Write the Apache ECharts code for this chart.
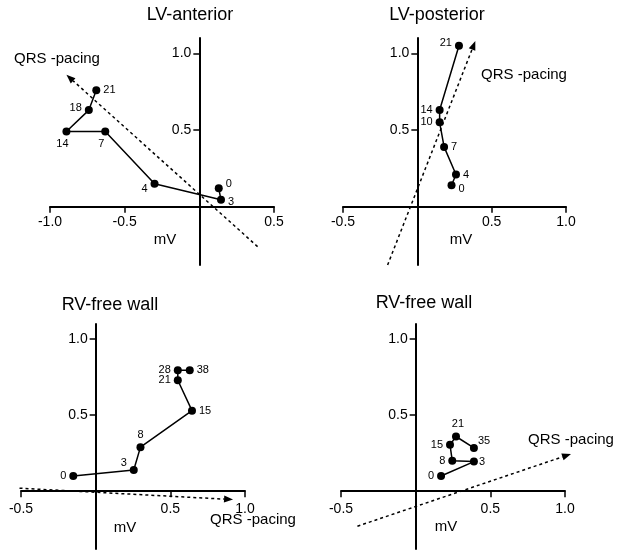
<!DOCTYPE html>
<html>
<head>
<meta charset="UTF-8">
<title>QRS vectors</title>
<style>html,body{margin:0;padding:0;background:#fff}#chart{width:628px;height:551px}</style>
</head>
<body>
<div id="chart"></div>
<script src="https://cdn.jsdelivr.net/npm/echarts@6/dist/echarts.min.js"></script>
<script>
// panel titles
var titles = ['LV-anterior', 'LV-posterior', 'RV-free wall', 'RV-free wall'];

// LV-anterior
var lvaTimes = ['0', '3', '4', '7', '14', '18', '21'];
var lvaX = [0.13, 0.145, -0.30, -0.63, -0.89, -0.74, -0.69];
var lvaY = [0.12, 0.045, 0.15, 0.49, 0.49, 0.63, 0.76];
var lvaQrs = [0.39, -0.26, -0.89, 0.86];   // from x, from y, to x, to y

// LV-posterior
var lvpTimes = ['0', '4', '7', '10', '14', '21'];
var lvpX = [0.23, 0.26, 0.18, 0.15, 0.15, 0.28];
var lvpY = [0.14, 0.21, 0.39, 0.55, 0.63, 1.05];
var lvpQrs = [-0.2, -0.38, 0.39, 1.08];

// RV-free wall (left)
var rv1Times = ['0', '3', '8', '15', '21', '28', '38'];
var rv1X = [-0.15, 0.255, 0.30, 0.645, 0.55, 0.55, 0.63];
var rv1Y = [0.10, 0.14, 0.29, 0.53, 0.73, 0.795, 0.795];
var rv1Qrs = [-0.51, 0.02, 0.92, -0.055];

// RV-free wall (right)
var rv2Times = ['0', '3', '8', '15', '21', '35'];
var rv2X = [0.17, 0.39, 0.245, 0.23, 0.27, 0.39];
var rv2Y = [0.10, 0.195, 0.20, 0.305, 0.36, 0.285];
var rv2Qrs = [-0.39, -0.23, 1.04, 0.245];

// tick labels
var xTicksLva = [-1.0, -0.5, 0.5];
var xTicksOther = [-0.5, 0.5, 1.0];
var yTicks = [0.5, 1.0];

var yMin = -0.38, yMax = 1.1;
var font = '"Liberation Sans", Arial, sans-serif';

var panels = [
	{times: lvaTimes, xs: lvaX, ys: lvaY, qrs: lvaQrs, xTicks: xTicksLva, xMin: -1, xMax: 0.5,
	 grid: {left: 50, top: 38, width: 224, height: 227}, xLabMargin: 8,
	 lab: [['right', [0, -4]], ['right', [0, 2]], ['left', [0, 5]], ['bottom', [-4, 0]], ['bottom', [-4, 0]], ['left', [0, -2]], ['right', [0, 0]]],
	 qrsText: [57, 59], mv: [165, 240], title: [190, 15]},
	{times: lvpTimes, xs: lvpX, ys: lvpY, qrs: lvpQrs, xTicks: xTicksOther, xMin: -0.5, xMax: 1,
	 grid: {left: 343, top: 38, width: 223, height: 227}, xLabMargin: 8,
	 lab: [['right', [0, 4]], ['right', [0, 0]], ['right', [0, 0]], ['left', [0, 0]], ['left', [0, 0]], ['left', [0, -3]]],
	 qrsText: [524, 75], mv: [461, 240], title: [437, 15]},
	{times: rv1Times, xs: rv1X, ys: rv1Y, qrs: rv1Qrs, xTicks: xTicksOther, xMin: -0.5, xMax: 1,
	 grid: {left: 21, top: 324, width: 224, height: 225}, xLabMargin: 11,
	 lab: [['left', [0, 0]], ['left', [0, -7]], ['top', [0, 0]], ['right', [0, 0]], ['left', [0, 0]], ['left', [0, 0]], ['right', [0, 0]]],
	 qrsText: [253, 520], mv: [125, 528], title: [110, 305]},
	{times: rv2Times, xs: rv2X, ys: rv2Y, qrs: rv2Qrs, xTicks: xTicksOther, xMin: -0.5, xMax: 1,
	 grid: {left: 341, top: 324, width: 224, height: 225}, xLabMargin: 11,
	 lab: [['left', [0, 0]], ['right', [-2, 0]], ['left', [0, 0]], ['left', [0, 0]], ['top', [2, 0]], ['right', [-3, -7]]],
	 qrsText: [571, 440], mv: [446, 527], title: [424, 303]}
];

// dashed QRS vector with a filled arrowhead, placed through the axes
function renderArrow(params, api) {
	var a = api.coord([api.value(0), api.value(1)]);
	var b = api.coord([api.value(2), api.value(3)]);
	var dx = b[0] - a[0], dy = b[1] - a[1];
	var len = Math.sqrt(dx * dx + dy * dy);
	var ux = dx / len, uy = dy / len;
	var bx = b[0] - ux * 9, by = b[1] - uy * 9;
	return {
		type: 'group',
		children: [{
			type: 'line',
			shape: {x1: a[0], y1: a[1], x2: bx, y2: by},
			style: {stroke: '#000', lineWidth: 1.5, lineDash: [3, 3]}
		}, {
			type: 'polygon',
			shape: {points: [b, [bx - uy * 3.5, by + ux * 3.5], [bx + uy * 3.5, by - ux * 3.5]]},
			style: {fill: '#000'}
		}]
	};
}

var grids = [], xAxes = [], yAxes = [], series = [], graphics = [];

panels.forEach(function (p, i) {
	grids.push(p.grid);
	// move each axis onto the other's zero (line, ticks and labels together)
	var xOff = p.grid.height * (0 - yMin) / (yMax - yMin);
	var yOff = p.grid.width * (0 - p.xMin) / (p.xMax - p.xMin);
	xAxes.push({
		type: 'value', gridIndex: i, min: p.xMin, max: p.xMax, position: 'bottom', offset: -xOff,
		axisLine: {onZero: false, lineStyle: {color: '#000', width: 2}},
		axisTick: {customValues: p.xTicks, length: 6, lineStyle: {color: '#000', width: 1.5}},
		axisLabel: {customValues: p.xTicks, color: '#000', fontSize: 14, fontFamily: font, margin: p.xLabMargin,
			formatter: function (v) { return v.toFixed(1); }},
		splitLine: {show: false}
	});
	yAxes.push({
		type: 'value', gridIndex: i, min: yMin, max: yMax, position: 'left', offset: -yOff,
		axisLine: {onZero: false, lineStyle: {color: '#000', width: 2}},
		axisTick: {customValues: yTicks, length: 6, lineStyle: {color: '#000', width: 1.5}},
		axisLabel: {customValues: yTicks, color: '#000', fontSize: 14, fontFamily: font, margin: 8,
			formatter: function (v) { return v.toFixed(1); }},
		splitLine: {show: false}
	});
	series.push({
		type: 'custom', xAxisIndex: i, yAxisIndex: i, clip: false, silent: true, z: 3,
		renderItem: renderArrow,
		encode: {x: [0, 2], y: [1, 3]},
		data: [p.qrs]
	});
	var data = p.xs.map(function (x, k) {
		return {
			value: [x, p.ys[k]],
			label: {show: true, formatter: p.times[k], position: p.lab[k][0], offset: p.lab[k][1], distance: 3}
		};
	});
	series.push({
		type: 'line', xAxisIndex: i, yAxisIndex: i, data: data,
		symbol: 'circle', symbolSize: 8, z: 5,
		itemStyle: {color: '#000'},
		lineStyle: {color: '#000', width: 1.5},
		label: {color: '#000', fontSize: 11, fontFamily: font}
	});
	graphics.push({type: 'text', x: p.title[0], y: p.title[1],
		style: {text: titles[i], fill: '#000', font: '18px ' + font, textAlign: 'center', textVerticalAlign: 'middle'}});
	graphics.push({type: 'text', x: p.qrsText[0], y: p.qrsText[1],
		style: {text: 'QRS -pacing', fill: '#000', font: '15px ' + font, textAlign: 'center', textVerticalAlign: 'middle'}});
	graphics.push({type: 'text', x: p.mv[0], y: p.mv[1],
		style: {text: 'mV', fill: '#000', font: '15px ' + font, textAlign: 'center', textVerticalAlign: 'middle'}});
});

var chart = echarts.init(document.getElementById('chart'));
chart.setOption({
	animation: false,
	grid: grids,
	xAxis: xAxes,
	yAxis: yAxes,
	series: series,
	graphic: graphics
});
</script>
</body>
</html>
